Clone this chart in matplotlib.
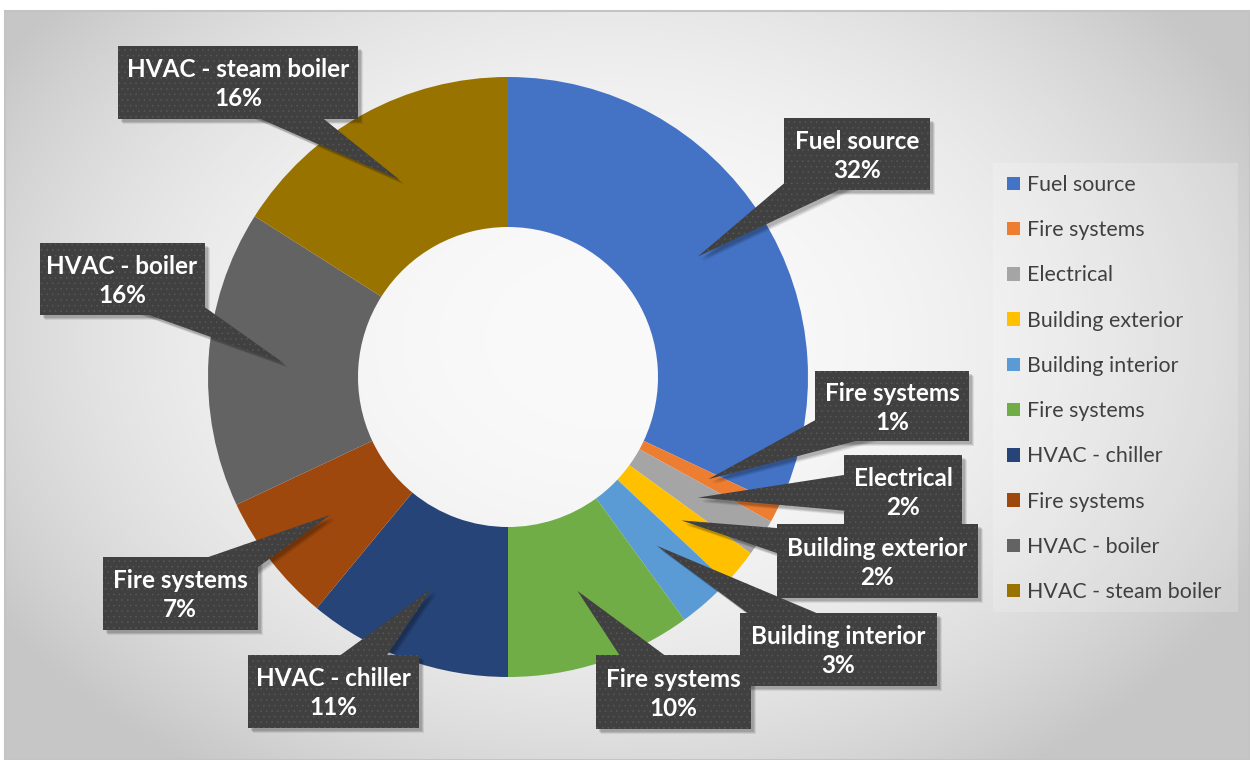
import numpy as np
import matplotlib
matplotlib.use("Agg")
import matplotlib.pyplot as plt
from matplotlib.patches import Rectangle, Polygon

# data
labels = ['Fuel source', 'Fire systems', 'Electrical', 'Building exterior',
          'Building interior', 'Fire systems', 'HVAC - chiller', 'Fire systems',
          'HVAC - boiler', 'HVAC - steam boiler']
values = [32, 1, 2, 2, 3, 10, 11, 7, 16, 16]
colors = ['#4472C4', '#ED7D31', '#A5A5A5', '#FFC000', '#5B9BD5',
          '#70AD47', '#264478', '#9E480E', '#636363', '#997300']

# callout boxes: centre x, centre y (pixels from top), width, height
boxes = [(857, 154, 146, 72), (892, 406, 154, 70), (903, 491, 118, 72),
         (877, 561, 201, 74), (838, 649, 197, 73), (673, 692, 155, 74),
         (333, 691, 171, 73), (180, 593, 155, 73), (122, 279, 165, 72),
         (238, 82, 240, 73)]

W, H = 1250, 760
font = ['Lato', 'DejaVu Sans']
plt.rcParams['font.family'] = font
plt.rcParams['hatch.linewidth'] = 0.4

fig = plt.figure(figsize=(12.5, 7.6), dpi=100)
ax = fig.add_axes([0, 0, 1, 1])

# radial gradient background of the chart area
gx, gy = np.meshgrid(np.linspace(5, W, 400), np.linspace(11, H, 260))
t = np.sqrt(((gx - 610) / 720) ** 2 + ((gy - 340) / 520) ** 2)
shade = 0.98 - 0.2 * np.clip(t, 0, 1) ** 2.3
ax.imshow(np.dstack([shade] * 3), extent=(5, W, 0, H - 11), origin='upper',
          interpolation='bicubic', zorder=0)
ax.add_patch(Rectangle((5, 0), W - 5, H - 11, fill=False, edgecolor='#c4c4c4',
                       linewidth=1.5, zorder=1))

cx, cy, R = 508, H - 377, 300
wedges, _ = ax.pie(values, colors=colors, startangle=90, counterclock=False,
                   radius=R, center=(cx, cy),
                   wedgeprops=dict(width=R / 2, linewidth=0))
for w in wedges:
    w.set_zorder(2)

# callouts
cum = np.cumsum([0] + values[:-1])
total = float(sum(values))
for i, (lab, v) in enumerate(zip(labels, values)):
    ang = np.deg2rad(90 - 360 * (cum[i] + v / 2) / total)
    tip = (cx + 0.75 * R * np.cos(ang), cy + 0.75 * R * np.sin(ang))
    bx, by, bw, bh = boxes[i]
    by = H - by
    d = np.array([tip[0] - bx, tip[1] - by])
    d = d / np.hypot(*d)
    p = np.array([-d[1], d[0]]) * 25
    tri = [(bx + p[0], by + p[1]), (bx - p[0], by - p[1]), tip]
    # soft shadow
    for off, al in [((5, -5), 0.08), ((4, -4), 0.1), ((3, -3), 0.12)]:
        ax.add_patch(Rectangle((bx - bw / 2 + off[0], by - bh / 2 + off[1]), bw, bh,
                               facecolor='black', alpha=al, linewidth=0, zorder=3))
        ax.add_patch(Polygon([(x + off[0], y + off[1]) for x, y in tri],
                             facecolor='black', alpha=al, linewidth=0, zorder=3))
    z = 4 + i * 0.1
    ax.add_patch(Polygon(tri, facecolor='#404040', edgecolor='#585858',
                         hatch='...', linewidth=0, zorder=z))
    ax.add_patch(Rectangle((bx - bw / 2, by - bh / 2), bw, bh, facecolor='#404040',
                           edgecolor='#585858', hatch='...', linewidth=0, zorder=z))
    ax.text(bx, by - 2, f'{lab}\n{v}%', color='white', fontsize=17.5,
            fontweight='bold', ha='center', va='center', linespacing=1.35,
            zorder=z + 0.05)

# legend
ax.add_patch(Rectangle((993, H - 612), 245, 449, facecolor='white', alpha=0.18,
                       linewidth=0, zorder=1))
leg = ax.legend(wedges, labels, loc='center left',
                bbox_to_anchor=(1007, H - 388.5), bbox_transform=ax.transData,
                frameon=False, fontsize=15.4, labelcolor='#404040',
                handlelength=0.6, handleheight=0.6, handletextpad=0.33,
                labelspacing=1.18, borderpad=0, borderaxespad=0)

ax.set_xlim(0, W)
ax.set_ylim(0, H)
ax.set_aspect('auto')
ax.axis('off')
fig.savefig('out.png', dpi=100, facecolor='white')
